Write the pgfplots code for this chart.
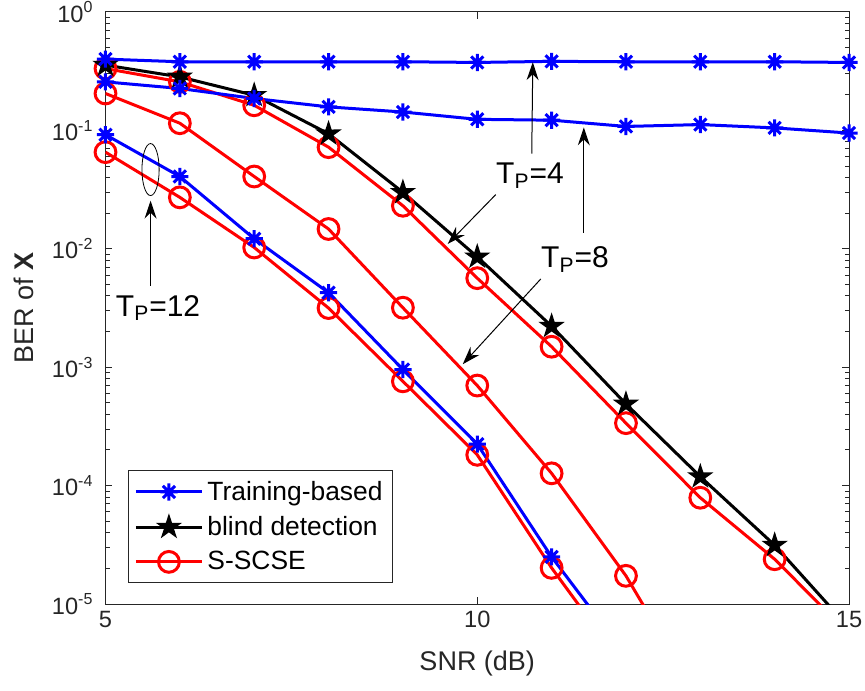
\documentclass[border=0pt]{standalone}
\usepackage{fontspec}
\setmainfont{Liberation Sans}
\usepackage{pgfplots}
\pgfplotsset{compat=1.18}
\usetikzlibrary{arrows.meta}
\definecolor{axgray}{rgb}{0.15,0.15,0.15}

% matlab-like '*' marker (8 arms)
\pgfdeclareplotmark{ast8}{%
  \pgfpathmoveto{\pgfqpoint{0pt}{\pgfplotmarksize}}\pgfpathlineto{\pgfqpoint{0pt}{-\pgfplotmarksize}}%
  \pgfpathmoveto{\pgfqpoint{\pgfplotmarksize}{0pt}}\pgfpathlineto{\pgfqpoint{-\pgfplotmarksize}{0pt}}%
  \pgfpathmoveto{\pgfqpoint{0.707\pgfplotmarksize}{0.707\pgfplotmarksize}}\pgfpathlineto{\pgfqpoint{-0.707\pgfplotmarksize}{-0.707\pgfplotmarksize}}%
  \pgfpathmoveto{\pgfqpoint{-0.707\pgfplotmarksize}{0.707\pgfplotmarksize}}\pgfpathlineto{\pgfqpoint{0.707\pgfplotmarksize}{-0.707\pgfplotmarksize}}%
  \pgfusepathqstroke}
% pentagram, filled
\pgfdeclareplotmark{penta}{%
  \pgfpathmoveto{\pgfqpointpolar{90}{\pgfplotmarksize}}%
  \pgfpathlineto{\pgfqpointpolar{126}{0.38\pgfplotmarksize}}%
  \pgfpathlineto{\pgfqpointpolar{162}{\pgfplotmarksize}}%
  \pgfpathlineto{\pgfqpointpolar{198}{0.38\pgfplotmarksize}}%
  \pgfpathlineto{\pgfqpointpolar{234}{\pgfplotmarksize}}%
  \pgfpathlineto{\pgfqpointpolar{270}{0.38\pgfplotmarksize}}%
  \pgfpathlineto{\pgfqpointpolar{306}{\pgfplotmarksize}}%
  \pgfpathlineto{\pgfqpointpolar{342}{0.38\pgfplotmarksize}}%
  \pgfpathlineto{\pgfqpointpolar{18}{\pgfplotmarksize}}%
  \pgfpathlineto{\pgfqpointpolar{54}{0.38\pgfplotmarksize}}%
  \pgfpathclose\pgfusepathqfillstroke}

\newcommand{\pw}[1]{10\raisebox{0.75ex}{\fontsize{8}{9}\selectfont #1}}

\begin{document}
\begin{tikzpicture}
\begin{axis}[
  scale only axis, width=371.75pt, height=296pt,
  xmin=5, xmax=15, ymin=1e-5, ymax=1, ymode=log,
  xtick={5,10,15}, xticklabels={5,10,15},
  ytick={1e-5,1e-4,1e-3,1e-2,1e-1,1},
  yticklabels={\pw{-5},\pw{-4},\pw{-3},\pw{-2},\pw{-1},\pw{0}},
  tick label style={font=\fontsize{11.8}{14}\selectfont, text=axgray},
  yticklabel style={xshift=-3pt},
  label style={font=\fontsize{13.5}{16}\selectfont, text=axgray},
  xlabel style={at={(axis description cs:0.5,-0.0997)}, anchor=center},
  ylabel style={at={(axis description cs:-0.1095,0.5)}, anchor=center},
  axis line style={axgray, line width=0.5pt},
  every tick/.style={axgray, line width=0.5pt},
  major tick length=3.5pt, minor tick length=2.2pt,
  xlabel={SNR (dB)}, ylabel={BER of \textbf{X}},
  legend cell align=left,
  legend style={at={(0.0303,0.0355)}, anchor=south west, draw=axgray,
    font=\fontsize{13.2}{15}\selectfont, row sep=2.5pt, inner sep=3pt},
  legend image code/.code={\draw[mark repeat=2, mark phase=2]
    plot coordinates {(0pt,0pt) (16.5pt,0pt) (33pt,0pt)};},
  every axis plot/.append style={line width=1.5pt},
]
\addlegendimage{blue, mark=ast8, mark size=4.3pt}
\addlegendentry{Training-based}
\addlegendimage{black, mark=penta, mark size=5.6pt, mark options={fill=black, line width=0.8pt}}
\addlegendentry{blind detection}
\addlegendimage{red, mark=o, mark size=5.2pt}
\addlegendentry{S-SCSE}

% S-SCSE
\addplot[red, mark=o, mark size=5.2pt, forget plot] coordinates {
  (5,0.333) (6,0.257) (7,0.163) (8,0.0722) (9,0.0231) (10,5.65e-3)
  (11,1.49e-3) (12,3.37e-4) (13,7.9e-5) (14,2.39e-5) (15,5.6e-6)};
\addplot[red, mark=o, mark size=5.2pt, forget plot] coordinates {
  (5,0.205) (6,0.115) (7,0.0408) (8,0.0147) (9,3.18e-3) (10,7.0e-4)
  (11,1.27e-4) (12,1.73e-5) (13,1.5e-6)};
\addplot[red, mark=o, mark size=5.2pt, forget plot] coordinates {
  (5,0.0655) (6,0.0272) (7,0.01026) (8,3.16e-3) (9,7.6e-4) (10,1.82e-4)
  (11,2.02e-5) (12,2.8e-6)};
% blind detection
\addplot[black, mark=penta, mark size=5.6pt, mark options={fill=black, line width=0.8pt}, forget plot] coordinates {
  (5,0.356) (6,0.283) (7,0.198) (8,0.0937) (9,0.030) (10,8.55e-3)
  (11,2.22e-3) (12,4.89e-4) (13,1.19e-4) (14,3.14e-5) (15,6.3e-6)};
% training-based
\addplot[blue, mark=ast8, mark size=4.3pt, forget plot] coordinates {
  (5,0.40) (6,0.38) (7,0.38) (8,0.38) (9,0.38) (10,0.375)
  (11,0.383) (12,0.38) (13,0.38) (14,0.38) (15,0.375)};
\addplot[blue, mark=ast8, mark size=4.3pt, forget plot] coordinates {
  (5,0.257) (6,0.226) (7,0.186) (8,0.158) (9,0.143) (10,0.124)
  (11,0.122) (12,0.108) (13,0.112) (14,0.105) (15,0.095)};
\addplot[blue, mark=ast8, mark size=4.3pt, forget plot] coordinates {
  (5,0.092) (6,0.0408) (7,0.01216) (8,4.26e-3) (9,9.56e-4) (10,2.24e-4)
  (11,2.5e-5) (12,3.7e-6)};

% annotations
\draw[black, line width=0.4pt] (axis cs:5.606,0.0467) ellipse [x radius=4.3pt, y radius=13pt];
\draw[black, line width=0.5pt, -{Stealth[length=9pt, width=6pt, inset=3pt]}]
  (axis cs:5.606,4.86e-3) -- (axis cs:5.606,0.0255);
\draw[black, line width=0.5pt, -{Stealth[length=9pt, width=6pt, inset=3pt]}]
  (axis cs:10.733,0.0638) -- (axis cs:10.747,0.377);
\draw[black, line width=0.5pt, -{Stealth[length=9pt, width=6pt, inset=3pt]}]
  (axis cs:10.249,0.0287) -- (axis cs:9.603,0.0110);
\draw[black, line width=0.5pt, -{Stealth[length=9pt, width=6pt, inset=3pt]}]
  (axis cs:11.433,0.01367) -- (axis cs:11.433,0.106);
\draw[black, line width=0.5pt, -{Stealth[length=9pt, width=6pt, inset=3pt]}]
  (axis cs:10.855,5.57e-3) -- (axis cs:9.805,1.06e-3);
\node[anchor=base west, inner sep=0pt, font=\fontsize{15}{17}\selectfont]
  at (axis cs:10.25,0.0356) {T\textsubscript{P}=4};
\node[anchor=base west, inner sep=0pt, font=\fontsize{15}{17}\selectfont]
  at (axis cs:10.855,6.9e-3) {T\textsubscript{P}=8};
\node[anchor=base west, inner sep=0pt, font=\fontsize{15}{17}\selectfont]
  at (axis cs:5.135,2.7e-3) {T\textsubscript{P}=12};
\end{axis}
\pgfresetboundingbox
\path (current axis.south west) +(-52.75pt,-43pt) (current axis.north east) +(8pt,6pt);
\end{tikzpicture}
\end{document}
